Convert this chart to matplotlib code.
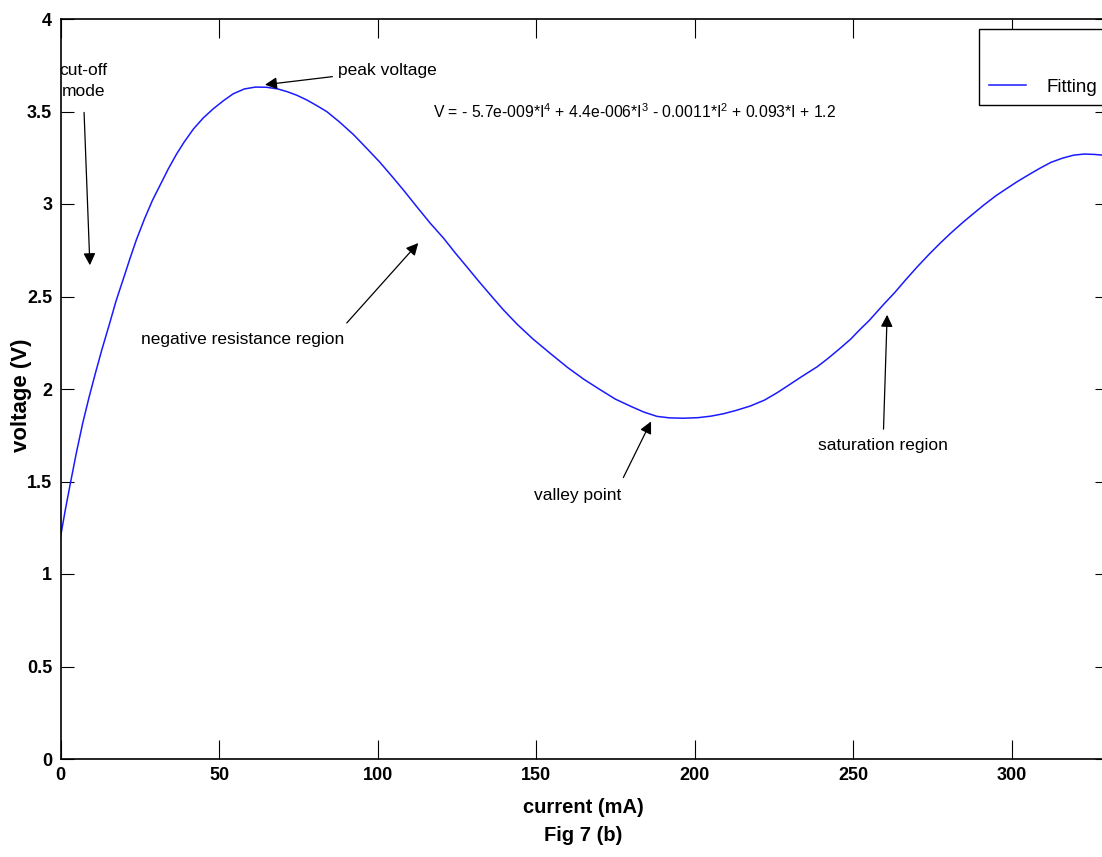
import numpy as np
import matplotlib
matplotlib.use('Agg')
import matplotlib.pyplot as plt

# values
current = [0, 1.5, 3, 5, 7, 9, 11, 13, 15.5, 17.5, 20, 22, 24, 26.5, 29, 31.5, 34,
           36.6, 39, 41.9, 45, 48.2, 51.5, 54.5, 58, 61.5, 65, 68.5, 71.5, 74.5,
           77.7, 81, 84, 88, 92.4, 96.5, 100.7, 104.5, 108.5, 112.5, 116.6, 120.8,
           124.5, 128.1, 132, 136, 139.7, 144, 149, 154.4, 160, 165, 170, 175, 180,
           184, 188.1, 192, 196.4, 201, 205, 209, 213, 217.5, 222, 226, 230, 234,
           238.6, 242, 245.5, 249.2, 252, 255, 259.7, 263, 266.5, 270.2, 274, 277.5,
           280.7, 284.5, 288, 291.2, 295, 298.5, 301.7, 305, 308.5, 312.3, 316,
           319.5, 322.8, 326, 328, 330]
voltage = [1.20, 1.345, 1.48, 1.655, 1.815, 1.955, 2.085, 2.21, 2.355, 2.475, 2.605,
           2.71, 2.81, 2.92, 3.02, 3.105, 3.19, 3.27, 3.335, 3.405, 3.465, 3.515,
           3.56, 3.596, 3.622, 3.632, 3.631, 3.622, 3.607, 3.588, 3.562, 3.53, 3.499,
           3.443, 3.375, 3.302, 3.226, 3.15, 3.068, 2.982, 2.896, 2.815, 2.735, 2.661,
           2.58, 2.50, 2.427, 2.35, 2.27, 2.193, 2.115, 2.053, 1.998, 1.945, 1.905,
           1.875, 1.852, 1.844, 1.842, 1.845, 1.853, 1.866, 1.884, 1.908, 1.94, 1.98,
           2.025, 2.07, 2.12, 2.165, 2.215, 2.27, 2.32, 2.37, 2.46, 2.52, 2.59,
           2.661, 2.73, 2.79, 2.842, 2.90, 2.95, 2.995, 3.045, 3.085, 3.121, 3.155,
           3.19, 3.225, 3.248, 3.264, 3.27, 3.268, 3.265, 3.262]
x_ticks = [0, 50, 100, 150, 200, 250, 300]
y_ticks = [0, 0.5, 1, 1.5, 2, 2.5, 3, 3.5, 4]
y_tick_labels = ['0', '0.5', '1', '1.5', '2', '2.5', '3', '3.5', '4']
equation = r'V = - 5.7e-009*I$^4$ + 4.4e-006*I$^3$ - 0.0011*I$^2$ + 0.093*I + 1.2'

plt.rcParams['font.family'] = ['Liberation Sans', 'DejaVu Sans']
plt.rcParams['mathtext.fontset'] = 'custom'
plt.rcParams['mathtext.rm'] = 'Liberation Sans'

fig = plt.figure(figsize=(11.02, 8.57), dpi=100)
ax = fig.add_axes([60.5 / 1102, 1 - 759 / 857, (1107 - 60.5) / 1102, (759 - 19) / 857])

ax.plot(current, voltage, color='#1a1aff', lw=1.1, label='Fitting')
ax.set_xlim(0, 330)
ax.set_ylim(0, 4)
ax.set_xticks(x_ticks)
ax.set_yticks(y_ticks)
ax.set_yticklabels(y_tick_labels)
ax.tick_params(axis='both', direction='in', top=True, right=True, labelsize=13)
ax.tick_params(axis='x', length=14, width=0.8, pad=6)
ax.tick_params(axis='y', length=9, width=0.8, pad=6)
for lbl in ax.get_xticklabels() + ax.get_yticklabels():
    lbl.set_fontweight('bold')
for sp in ax.spines.values():
    sp.set_linewidth(1.2)

ax.set_xlabel('current (mA)\nFig 7 (b)', fontsize=14.5, fontweight='bold',
              linespacing=1.6)
ax.xaxis.set_label_coords((583 - 60.5) / 1046.5, -39 / 740, transform=ax.transAxes)
ax.set_ylabel('voltage (V)', fontsize=16, fontweight='bold')
ax.yaxis.set_label_coords(-28 / 1046.5, (759 - 395) / 740)

arrow = dict(arrowstyle='-|>', color='black', lw=0.9, mutation_scale=18)
txt = dict(fontsize=12.5, color='black')

ax.annotate('', xy=(9.3, 2.654), xytext=(7.4, 3.51), arrowprops=arrow)
ax.text(7.2, 3.665, 'cut-off\nmode', ha='center', va='center', linespacing=1.5, **txt)

ax.annotate('peak voltage', xy=(63.6, 3.643), xytext=(87.5, 3.724),
            ha='left', va='center', arrowprops=arrow, **txt)

ax.text(117.5, 3.50, equation, ha='left', va='center', fontsize=11.3)

ax.annotate('', xy=(113.4, 2.80), xytext=(89.7, 2.346), arrowprops=arrow)
ax.text(57.4, 2.265, 'negative resistance region', ha='center', va='center', **txt)

ax.annotate('', xy=(186.6, 1.838), xytext=(177.1, 1.508), arrowprops=arrow)
ax.text(163.2, 1.427, 'valley point', ha='center', va='center', **txt)

ax.annotate('', xy=(260.7, 2.416), xytext=(259.5, 1.768), arrowprops=arrow)
ax.text(259.3, 1.697, 'saturation region', ha='center', va='center', **txt)

leg = ax.legend(loc='upper right', bbox_to_anchor=(1107 / 1102, 1 - 29 / 857),
                bbox_transform=fig.transFigure, fancybox=False, framealpha=1,
                edgecolor='black', fontsize=13.5, title=' ', title_fontsize=24,
                handlelength=2.0, borderpad=0.5, handletextpad=1.1,
                borderaxespad=0)
leg.get_frame().set_linewidth(1.0)

plt.savefig('out.png', dpi=100)
